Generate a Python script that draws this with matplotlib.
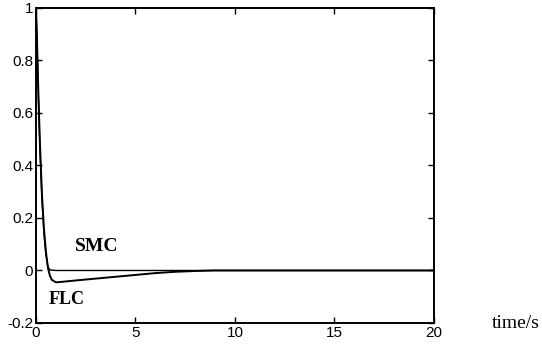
import matplotlib
matplotlib.use("Agg")
import matplotlib.pyplot as plt

t_smc = [0, 0.05, 0.1, 0.15, 0.2, 0.3, 0.4, 0.5, 0.6, 0.7, 1.0, 5, 10, 20]
smc = [1.0, 0.88, 0.72, 0.58, 0.46, 0.27, 0.14, 0.06, 0.015, 0.002, 0.0, 0.0, 0.0, 0.0]

t_flc = [0, 0.05, 0.1, 0.15, 0.2, 0.3, 0.4, 0.5, 0.6, 0.7, 0.8, 1.0, 1.2, 2, 3, 4, 5, 6, 7, 8, 9, 20]
flc = [1.0, 0.88, 0.73, 0.6, 0.48, 0.29, 0.16, 0.07, 0.01, -0.02, -0.036, -0.045, -0.044,
       -0.038, -0.031, -0.024, -0.017, -0.010, -0.005, -0.002, 0.0, 0.0]

xticks = [0, 5, 10, 15, 20]
yticks = [-0.2, 0, 0.2, 0.4, 0.6, 0.8, 1]
ytick_labels = ["-0.2", "0", "0.2", "0.4", "0.6", "0.8", "1"]

fig = plt.figure(figsize=(5.42, 3.47), dpi=100)
ax = fig.add_axes([0.0664, 0.0692, 0.734, 0.908])
ax.plot(t_smc, smc, color="black", lw=1.0)
ax.plot(t_flc, flc, color="black", lw=1.4)
ax.set_xlim(0, 20)
ax.set_ylim(-0.2, 1)
ax.set_xticks(xticks)
ax.set_xticklabels([str(v) for v in xticks])
ax.set_yticks(yticks)
ax.set_yticklabels(ytick_labels)
ax.tick_params(direction="in", top=True, right=True, length=4, width=1,
               labelsize=11, pad=2)
for lab in ax.get_xticklabels() + ax.get_yticklabels():
    lab.set_family("Liberation Sans")
for s in ax.spines.values():
    s.set_linewidth(1.4)

ax.text(3.05, 0.09, "SMC", fontsize=14, fontweight="bold", family="Liberation Serif",
        ha="center", va="center")
ax.text(1.55, -0.11, "FLC", fontsize=13, fontweight="bold", family="Liberation Serif",
        ha="center", va="center")
fig.text(516 / 542, 1 - 323 / 347, "time/s", fontsize=14, family="Liberation Serif",
         ha="center", va="center")

fig.savefig("out.png", dpi=100)
